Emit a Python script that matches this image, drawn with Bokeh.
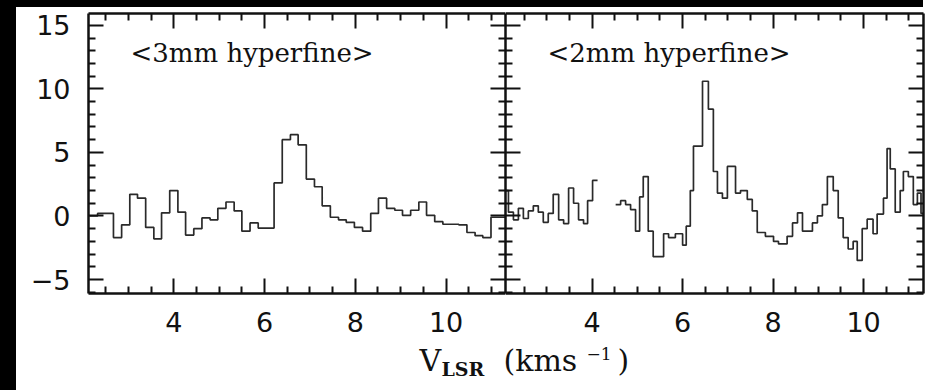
from bokeh.plotting import figure
from bokeh.models import Range1d, LinearAxis, FixedTicker, Label, ColumnDataSource, Spacer
from bokeh.layouts import row, column
from bokeh.embed import file_html
from bokeh.resources import INLINE

# ---------------- data ----------------
x_major = [4, 6, 8, 10]
x_minor = [2.5, 3, 3.5, 4.5, 5, 5.5, 6.5, 7, 7.5, 8.5, 9, 9.5, 10.5, 11]
y_major = [-5, 0, 5, 10, 15]
y_minor = [-6, -4, -3, -2, -1, 1, 2, 3, 4, 6, 7, 8, 9, 11, 12, 13, 14]
y_label_text = {-5: "\u22125", 0: "0", 5: "5", 10: "10", 15: "15"}

panel_titles = ["<3mm hyperfine>", "<2mm hyperfine>"]

# 3mm hyperfine spectrum: channel edges (km/s) and brightness per channel
left_edges = [2.14, 2.32, 2.49, 2.67, 2.85, 3.03, 3.20, 3.38, 3.56, 3.73,
              3.91, 4.09, 4.26, 4.44, 4.62, 4.80, 4.97, 5.15, 5.33, 5.50,
              5.68, 5.86, 6.03, 6.21, 6.39, 6.57, 6.74, 6.92, 7.10, 7.27,
              7.45, 7.63, 7.80, 7.98, 8.16, 8.34, 8.51, 8.69, 8.87, 9.04,
              9.22, 9.40, 9.57, 9.75, 9.93, 10.11, 10.28, 10.46, 10.64, 10.81,
              10.99, 11.17, 11.34]
left_temp = [0.0, 0.2, 0.2, -1.7, -0.7, 1.7, 1.4, -0.9, -1.8, 0.25,
             2.0, 0.3, -1.5, -1.0, -0.15, -0.3, 0.6, 1.1, 0.4, -1.2,
             -0.55, -0.95, -0.95, 2.6, 6.0, 6.4, 5.6, 2.9, 2.3, 0.8,
             -0.1, -0.3, -0.5, -0.9, -1.2, 0.2, 1.4, 0.6, 0.45, 0.05,
             0.45, 1.1, 0.05, -0.45, -0.65, -0.65, -0.7, -1.3, -1.55, -1.7,
             -0.1, -0.1]

# 2mm hyperfine spectrum (two pieces, gap between them)
right_edges_a = [2.09, 2.15, 2.26, 2.37, 2.48, 2.59, 2.70, 2.81, 2.92, 3.03,
                 3.14, 3.26, 3.37, 3.48, 3.59, 3.70, 3.81, 3.90, 4.01, 4.12]
right_temp_a = [2.0, 0.3, -0.3, 0.6, -0.2, 0.4, 0.8, 0.3, -0.5, 0.2,
                1.7, -0.3, -0.6, 2.2, 1.0, -0.3, -0.6, 1.2, 2.8]

right_edges_b = [4.52, 4.63, 4.74, 4.85, 4.96, 5.05, 5.13, 5.24, 5.35, 5.58,
                 5.69, 5.84, 6.00, 6.08, 6.17, 6.24, 6.44, 6.57, 6.68, 6.77,
                 6.88, 6.99, 7.17, 7.28, 7.43, 7.54, 7.65, 7.83, 8.01, 8.12,
                 8.31, 8.43, 8.54, 8.65, 8.87, 8.98, 9.09, 9.20, 9.33, 9.44,
                 9.55, 9.66, 9.77, 9.86, 9.97, 10.08, 10.21, 10.30, 10.44, 10.52,
                 10.59, 10.70, 10.81, 10.88, 10.99, 11.10, 11.19, 11.27, 11.32]
right_temp_b = [0.9, 1.2, 0.9, 0.5, -1.2, 1.5, 3.1, -1.2, -3.2, -1.4,
                -1.7, -1.4, -2.3, -0.8, 2.0, 5.5, 10.6, 8.4, 3.5, 1.8,
                1.4, 3.9, 1.8, 2.0, 1.3, 0.4, -1.3, -1.6, -2.0, -2.2,
                -1.6, -0.55, 0.25, -1.2, -0.55, 0.0, 0.9, 3.1, 2.0, -0.15,
                -1.7, -2.6, -2.0, -3.5, -1.0, -0.25, -1.4, 0.15, 1.4, 5.3,
                3.7, 0.3, 2.0, 3.5, 3.1, 0.9, 1.8, 0.2]

# ---------------- styling helpers ----------------
AX_COL = "#111111"
LINE_COL = "#2a2a2a"
TICK_FONT = "DejaVu Sans"
SERIF = "DejaVu Serif"


def style_axis(ax, major, minor, show_labels, overrides=None):
    ax.ticker = FixedTicker(ticks=major, minor_ticks=minor)
    ax.major_tick_in = 15
    ax.major_tick_out = 0
    ax.minor_tick_in = 7
    ax.minor_tick_out = 0
    ax.axis_line_width = 2.5
    ax.axis_line_color = AX_COL
    ax.major_tick_line_width = 2
    ax.major_tick_line_color = AX_COL
    ax.minor_tick_line_width = 2
    ax.minor_tick_line_color = AX_COL
    ax.axis_label = None
    if show_labels:
        ax.major_label_text_font = TICK_FONT
        ax.major_label_text_font_size = "27px"
        ax.major_label_text_color = "#111111"
        ax.major_label_standoff = 18
        if overrides:
            ax.major_label_overrides = overrides
    else:
        ax.major_label_text_color = None
        ax.major_label_standoff = 0


def step_source(edges, temps):
    return ColumnDataSource(data=dict(x=edges, y=list(temps) + [temps[-1]]))


def make_panel(width, xr, left_labels, border_left, border_right):
    p = figure(width=width, height=335,
               x_range=Range1d(*xr), y_range=Range1d(-6.1, 15.93),
               output_backend="svg", toolbar_location=None,
               min_border_left=border_left, min_border_right=border_right,
               min_border_top=6, min_border_bottom=49)
    p.grid.visible = False
    p.outline_line_color = None
    p.background_fill_color = "white"
    p.border_fill_color = "white"
    style_axis(p.xaxis[0], x_major, x_minor, True)
    style_axis(p.yaxis[0], y_major, y_minor, left_labels, y_label_text)
    top = LinearAxis()
    style_axis(top, x_major, x_minor, False)
    p.add_layout(top, "above")
    right = LinearAxis()
    style_axis(right, y_major, y_minor, False)
    p.add_layout(right, "right")
    return p


def band(width, height):
    return Spacer(width=width, height=height,
                  styles={"background-color": "black"})


p1 = make_panel(489, (2.12, 11.31), True, 72, 0)
p1.step(x="x", y="y", source=step_source(left_edges, left_temp), mode="after",
        line_color=LINE_COL, line_width=1.7)
p1.add_layout(Label(x=42, y=241, x_units="screen", y_units="screen",
                    text=panel_titles[0], text_font=SERIF, text_font_size="26px",
                    text_color="#111111", text_baseline="alphabetic"))

p2 = make_panel(440, (2.085, 11.325), False, 0, 22)
p2.step(x="x", y="y", source=step_source(right_edges_a, right_temp_a), mode="after",
        line_color=LINE_COL, line_width=1.7)
p2.step(x="x", y="y", source=step_source(right_edges_b, right_temp_b), mode="after",
        line_color=LINE_COL, line_width=1.7)
p2.add_layout(Label(x=42, y=241, x_units="screen", y_units="screen",
                    text=panel_titles[1], text_font=SERIF, text_font_size="26px",
                    text_color="#111111", text_baseline="alphabetic"))

# shared axis title below both panels
p3 = figure(width=929, height=48, x_range=Range1d(0, 929), y_range=Range1d(0, 48),
            output_backend="svg", toolbar_location=None, min_border=0,
            x_axis_type=None, y_axis_type=None)
p3.outline_line_color = None
p3.background_fill_color = "white"
p3.border_fill_color = "white"
title_parts = [
    ("V", 403, 30, "30px", "normal"),
    ("LSR", 425, 22, "19px", "bold"),
    ("(kms", 487, 30, "30px", "normal"),
    ("\u22121", 570, 37, "17px", "normal"),
    (")", 601, 30, "30px", "normal"),
]
for txt, xs, ys, size, style in title_parts:
    p3.add_layout(Label(x=xs, y=ys, x_units="screen", y_units="screen", text=txt,
                        text_font=SERIF, text_font_size=size, text_font_style=style,
                        text_color="#111111", text_baseline="alphabetic"))

main = column(band(907, 7), row(p1, p2), p3)
layout = row(band(16, 390), main)
open("out.html", "w").write(file_html(layout, INLINE))
